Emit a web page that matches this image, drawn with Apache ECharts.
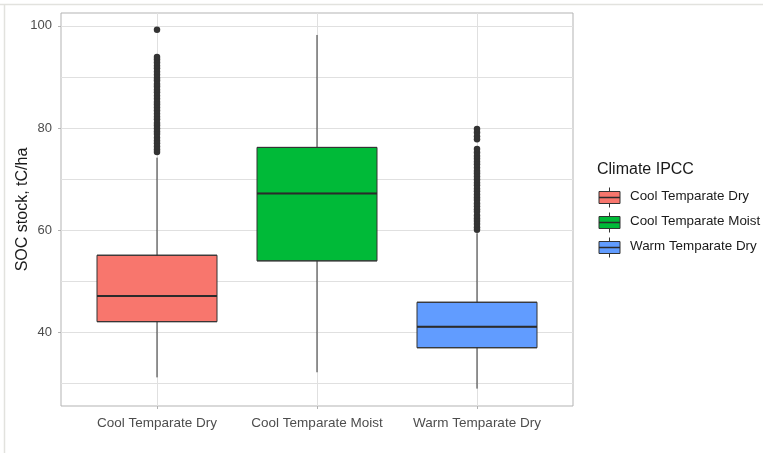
<!DOCTYPE html>
<html>
<head>
<meta charset="utf-8">
<script src="https://cdn.jsdelivr.net/npm/echarts@6/dist/echarts.min.js"></script>
<style>
  html, body { margin: 0; padding: 0; background: #fff; }
  #chart { width: 763px; height: 453px; }
</style>
</head>
<body>
<div id="chart"></div>
<script>
const categories = ['Cool Temparate Dry', 'Cool Temparate Moist', 'Warm Temparate Dry'];
const boxColors = ['#F8766D', '#00BA38', '#619CFF'];
const whiskerLow = [31.2, 32.2, 29.0];
const q1 = [42.1, 54.0, 37.0];
const median = [47.1, 67.2, 41.1];
const q3 = [55.1, 76.2, 45.9];
const whiskerHigh = [74.2, 98.2, 59.4];
const outliersCoolDry = [75.3, 75.8, 76.4, 77.0, 77.5, 78.1, 78.8, 79.3, 79.9, 80.5, 81.0, 81.7,
  82.2, 82.8, 83.4, 84.0, 84.6, 85.1, 85.7, 86.3, 87.0, 87.5, 88.1, 88.6, 89.3, 89.8, 90.4,
  91.0, 91.7, 92.2, 92.8, 93.4, 93.9, 99.2];
const outliersWarmDry = [60.1, 60.6, 61.2, 61.8, 62.3, 62.9, 63.6, 64.1, 64.7, 65.2, 65.9, 66.4,
  67.0, 67.6, 68.1, 68.8, 69.3, 69.9, 70.5, 71.1, 71.6, 72.2, 72.9, 73.4, 74.0, 74.5, 75.2,
  75.9, 77.8, 78.4, 79.1, 79.8];
const yMajor = [40, 60, 80, 100];
const yMinor = [30, 50, 70, 90];

const FONT = 'Liberation Sans, Arial, sans-serif';
const GRID_COLOR = '#e0e0e0';

const chart = echarts.init(document.getElementById('chart'));

// positions on the x value axis are 1..n, like ggplot's discrete scale
const boxData = categories.map((c, i) => ({
  value: [i + 1, q1[i], q1[i], median[i], q3[i], q3[i]],
  itemStyle: { color: boxColors[i] }
}));
const whiskerData = categories.map((c, i) =>
  [i + 1, whiskerLow[i], q1[i], median[i], q3[i], whiskerHigh[i]]);
const outlierData = []
  .concat(outliersCoolDry.map(v => [1, v]))
  .concat(outliersWarmDry.map(v => [3, v]));

function renderWhisker(params, api) {
  const x = api.value(0);
  const lo = api.coord([x, api.value(1)]);
  const b = api.coord([x, api.value(2)]);
  const t = api.coord([x, api.value(4)]);
  const hi = api.coord([x, api.value(5)]);
  const mL = api.coord([x - 0.375, api.value(3)]);
  const mR = api.coord([x + 0.375, api.value(3)]);
  const ls = { stroke: '#333', lineWidth: 1 };
  return {
    type: 'group',
    children: [
      { type: 'line', shape: { x1: lo[0], y1: lo[1], x2: b[0], y2: b[1] }, style: ls },
      { type: 'line', shape: { x1: t[0], y1: t[1], x2: hi[0], y2: hi[1] }, style: ls },
      { type: 'line', shape: { x1: mL[0], y1: mL[1], x2: mR[0], y2: mR[1] },
        style: { stroke: '#2b2b2b', lineWidth: 2 }, z2: 10 }
    ]
  };
}

// legend drawn by hand to get ggplot's boxplot key glyphs
const legendX = 599, legendY0 = 197.5, legendStep = 25;
const legendGraphics = [{
  type: 'text', left: 597, top: 162,
  style: { text: 'Climate IPCC', font: '16px ' + FONT, fill: '#1a1a1a' }
}];
categories.forEach((c, i) => {
  const cy = legendY0 + i * legendStep;
  legendGraphics.push(
    { type: 'line', shape: { x1: legendX + 10.5, y1: cy - 10, x2: legendX + 10.5, y2: cy + 10 },
      style: { stroke: '#333', lineWidth: 1 } },
    { type: 'rect', shape: { x: legendX, y: cy - 6, width: 21, height: 12 },
      style: { fill: boxColors[i], stroke: '#333', lineWidth: 1 } },
    { type: 'line', shape: { x1: legendX, y1: cy, x2: legendX + 21, y2: cy },
      style: { stroke: '#2b2b2b', lineWidth: 1.5 } },
    { type: 'text', left: 630, top: cy - 7.5,
      style: { text: c, font: '13.4px ' + FONT, fill: '#1a1a1a' } }
  );
});

chart.setOption({
  animation: false,
  backgroundColor: '#fff',
  textStyle: { fontFamily: FONT },
  grid: {
    left: 61, top: 13, width: 512, height: 393,
    containLabel: false, outerBoundsMode: 'none',
    show: true, borderColor: '#b3b3b3', borderWidth: 1, backgroundColor: '#fff'
  },
  graphic: [
    { type: 'line', shape: { x1: 0, y1: 4.5, x2: 763, y2: 4.5 }, style: { stroke: '#e2e2de', lineWidth: 1.5 } },
    { type: 'line', shape: { x1: 4.5, y1: 4, x2: 4.5, y2: 453 }, style: { stroke: '#e2e2de', lineWidth: 1.5 } }
  ].concat(legendGraphics),
  xAxis: {
    type: 'value', min: 0.4, max: 3.6,
    axisLine: { show: false },
    axisTick: { show: true, length: 3, customValues: [1, 2, 3], lineStyle: { color: '#b3b3b3' } },
    axisLabel: {
      customValues: [1, 2, 3], margin: 10, color: '#4d4d4d', fontSize: 13.5, fontFamily: FONT,
      formatter: v => categories[Math.round(v) - 1] || ''
    },
    splitLine: { show: true, lineStyle: { color: GRID_COLOR, width: 1 } }
  },
  yAxis: [{
    type: 'value', min: 25.6, max: 102.5,
    name: 'SOC stock, tC/ha', nameLocation: 'middle', nameGap: 30, nameRotate: 90,
    nameMoveOverlap: false,
    nameTextStyle: { fontSize: 16, color: '#1a1a1a', fontFamily: FONT },
    axisLine: { show: false },
    axisTick: { show: true, length: 3, customValues: yMajor, lineStyle: { color: '#b3b3b3' } },
    axisLabel: { customValues: yMajor, margin: 9, color: '#4d4d4d', fontSize: 13, fontFamily: FONT },
    splitLine: { show: true, lineStyle: { color: GRID_COLOR, width: 1 } }
  }, {
    type: 'value', min: 25.6, max: 102.5, position: 'left',
    axisLine: { show: false },
    axisTick: { show: false, customValues: yMinor },
    axisLabel: { show: false, customValues: yMinor },
    splitLine: { show: true, lineStyle: { color: GRID_COLOR, width: 1 } }
  }],
  series: [{
    type: 'custom',
    renderItem: renderWhisker,
    data: whiskerData,
    encode: { x: 0, y: [1, 5] },
    z: 3
  }, {
    type: 'boxplot',
    data: boxData,
    boxWidth: [120, 120],
    itemStyle: { borderColor: '#333', borderWidth: 1 },
    z: 2
  }, {
    type: 'scatter',
    data: outlierData,
    symbolSize: 6.5,
    itemStyle: { color: '#333', opacity: 1 },
    z: 4
  }]
});
</script>
</body>
</html>
